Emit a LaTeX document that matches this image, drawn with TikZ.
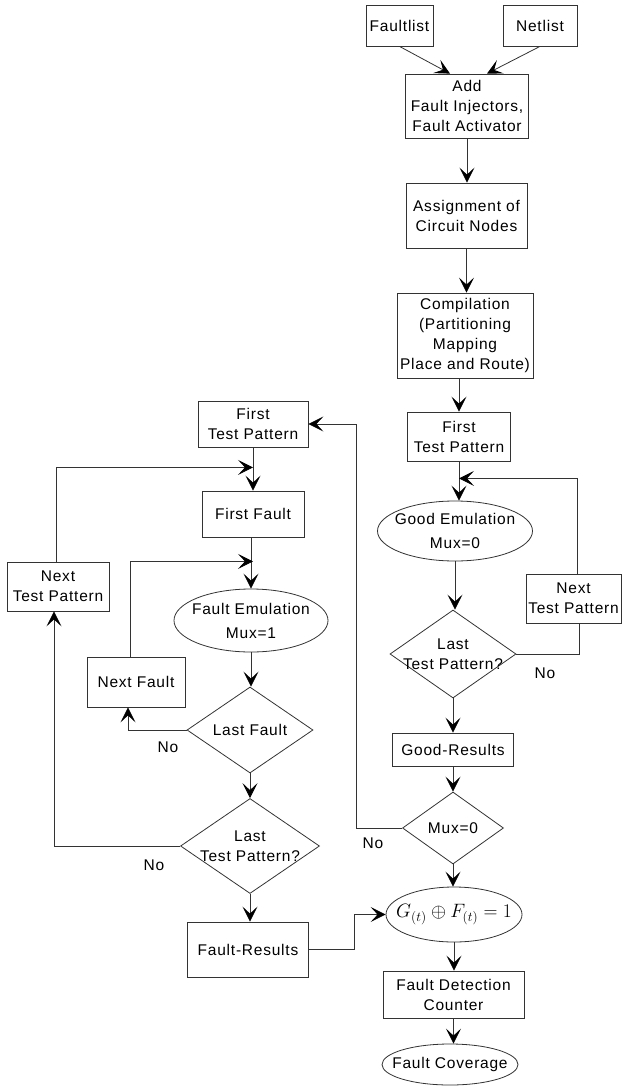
\documentclass[tikz,border=0pt]{standalone}
\usepackage{fontspec}
\setmainfont{Liberation Sans}[LetterSpace=5]
\usetikzlibrary{arrows.meta,shapes.geometric,calc}
\begin{document}
\begin{tikzpicture}[x=1pt,y=-1pt,
  font=\fontsize{15.5}{20}\selectfont,
  box/.style={draw=black!80, line width=0.8pt, rectangle, inner sep=0pt, align=center},
  ell/.style={draw=black!80, line width=0.8pt, ellipse, inner sep=0pt},
  dia/.style={draw=black!80, line width=0.8pt, diamond, inner sep=0pt},
  conn/.style={draw=black!80, line width=0.8pt},
  arr/.style={conn, -{Stealth[length=15pt,width=15pt,inset=7pt,black]}},
  lbl/.style={inner sep=0pt}]
\useasboundingbox (0,0) rectangle (622,1086);
% right column
\node[box, minimum width=67pt, minimum height=41pt] (faultlist) at (399.5,25.5) {Faultlist};
\node[box, minimum width=74pt, minimum height=41pt] (netlist) at (540,25.5) {Netlist};
\node[box, minimum width=123pt, minimum height=64pt] (add) at (467,106) {Add\\Fault Injectors,\\Fault Activator};
\node[box, minimum width=121pt, minimum height=65pt] (assign) at (466.5,215.5) {Assignment of\\Circuit Nodes};
\node[box, minimum width=136pt, minimum height=85pt] (comp) at (465,335.5) {Compilation\\(Partitioning\\Mapping\\Place and Route)};
\node[box, minimum width=103pt, minimum height=49pt] (ftpr) at (459,436.5) {First\\Test Pattern};
\node[ell, minimum width=155pt, minimum height=60pt, label={[align=center,font=\fontsize{15.5}{24}\selectfont]center:{Good Emulation\\Mux=0}}] (good) at (455,531) {};
\node[box, minimum width=95pt, minimum height=49pt] (ntpr) at (573.5,598.5) {Next\\Test Pattern};
\node[dia, minimum width=126pt, minimum height=88pt, label={[align=center]center:{Last\\Test Pattern?}}] (ltpr) at (453,654) {};
\node[box, minimum width=121pt, minimum height=33pt] (goodres) at (453,749.5) {Good-Results};
\node[dia, minimum width=101pt, minimum height=72pt, label={center:{Mux=0}}] (mux) at (453,828) {};
\node[ell, minimum width=136pt, minimum height=55pt, label={[scale=1.12]center:{\fontsize{18}{18}\selectfont$G_{(t)}\oplus F_{(t)}=1$}}] (gx) at (454,914.5) {};
\node[box, minimum width=141pt, minimum height=47pt] (fdc) at (453.5,994.5) {Fault Detection\\Counter};
\node[ell, minimum width=136pt, minimum height=41pt, label={center:{Fault Coverage}}] (fc) at (450,1064.5) {};
% left column
\node[box, minimum width=110pt, minimum height=46pt] (ftpl) at (253,424) {First\\Test Pattern};
\node[box, minimum width=102pt, minimum height=46pt] (ff) at (253,514) {First Fault};
\node[ell, minimum width=154pt, minimum height=63pt, label={[align=center,font=\fontsize{15.5}{24}\selectfont]center:{Fault Emulation\\Mux=1}}] (fe) at (251,620.5) {};
\node[box, minimum width=102pt, minimum height=49pt] (ntpl) at (58,586.5) {Next\\Test Pattern};
\node[box, minimum width=98pt, minimum height=50pt] (nf) at (136,682) {Next Fault};
\node[dia, minimum width=126pt, minimum height=86pt, label={center:{Last Fault}}] (lf) at (250,730) {};
\node[dia, minimum width=139pt, minimum height=95pt, label={[align=center]center:{Last\\Test Pattern?}}] (ltpl) at (250,846) {};
\node[box, minimum width=121pt, minimum height=55pt] (fr) at (248,949.5) {Fault-Results};
% No labels
\node[lbl] (no1) at (545,673) {No};
\node[lbl] (no2) at (373,843) {No};
\node[lbl] (no3) at (168,747) {No};
\node[lbl] (no4) at (154,865) {No};
% junctions
\coordinate (j1) at ([yshift=-17pt]ftpr.south);
\coordinate (j2) at ([yshift=-20pt]ftpl.south);
\coordinate (j3) at ([yshift=-24pt]ff.south);
% right connectors
\draw[arr] (faultlist.south) -- ([xshift=-17pt]add.north);
\draw[arr] (netlist.south) -- ([xshift=20pt]add.north);
\draw[arr] (add.south) -- (add.south |- assign.north);
\draw[arr] (assign.south) -- (assign.south |- comp.north);
\draw[arr] (ftpr.north |- comp.south) -- (ftpr.north);
\draw[arr] (ftpr.south) -- (ftpr.south |- good.north);
\draw[arr] (good.south) -- (good.south |- ltpr.north);
\draw[conn] (ltpr.east) -| ([xshift=6pt]ntpr.south);
\draw[arr] ([xshift=4pt]ntpr.north) |- (j1);
\draw[arr] (ltpr.south) -- (goodres.north);
\draw[arr] (goodres.south) -- (mux.north);
\draw[arr] (mux.west) -- ++(-46,0) |- (ftpl.east);
\draw[arr] (mux.south) -- (mux.south |- gx.north);
\draw[arr] (gx.south) -- (gx.south |- fdc.north);
\draw[arr] (fdc.south) -- (fdc.south |- fc.north);
% left connectors
\draw[arr] (ftpl.south) -- (ftpl.south |- ff.north);
\draw[arr] ([xshift=-2pt]ntpl.north) |- (j2);
\draw[arr] ([xshift=-2pt]ff.south) -- ([xshift=-2pt]ff.south |- fe.north);
\draw[arr] ([xshift=-6pt]nf.north) |- (j3);
\draw[arr] (fe.south) -- (fe.south |- lf.north);
\draw[arr] (lf.west) -| ([xshift=-8pt]nf.south);
\draw[arr] (lf.south) -- (ltpl.north);
\draw[arr] (ltpl.west) -| ([xshift=-4pt]ntpl.south);
\draw[arr] (ltpl.south) -- (ltpl.south |- fr.north);
\draw[arr] (fr.east) -- ++(45,0) |- (gx.west);
\end{tikzpicture}
\end{document}
